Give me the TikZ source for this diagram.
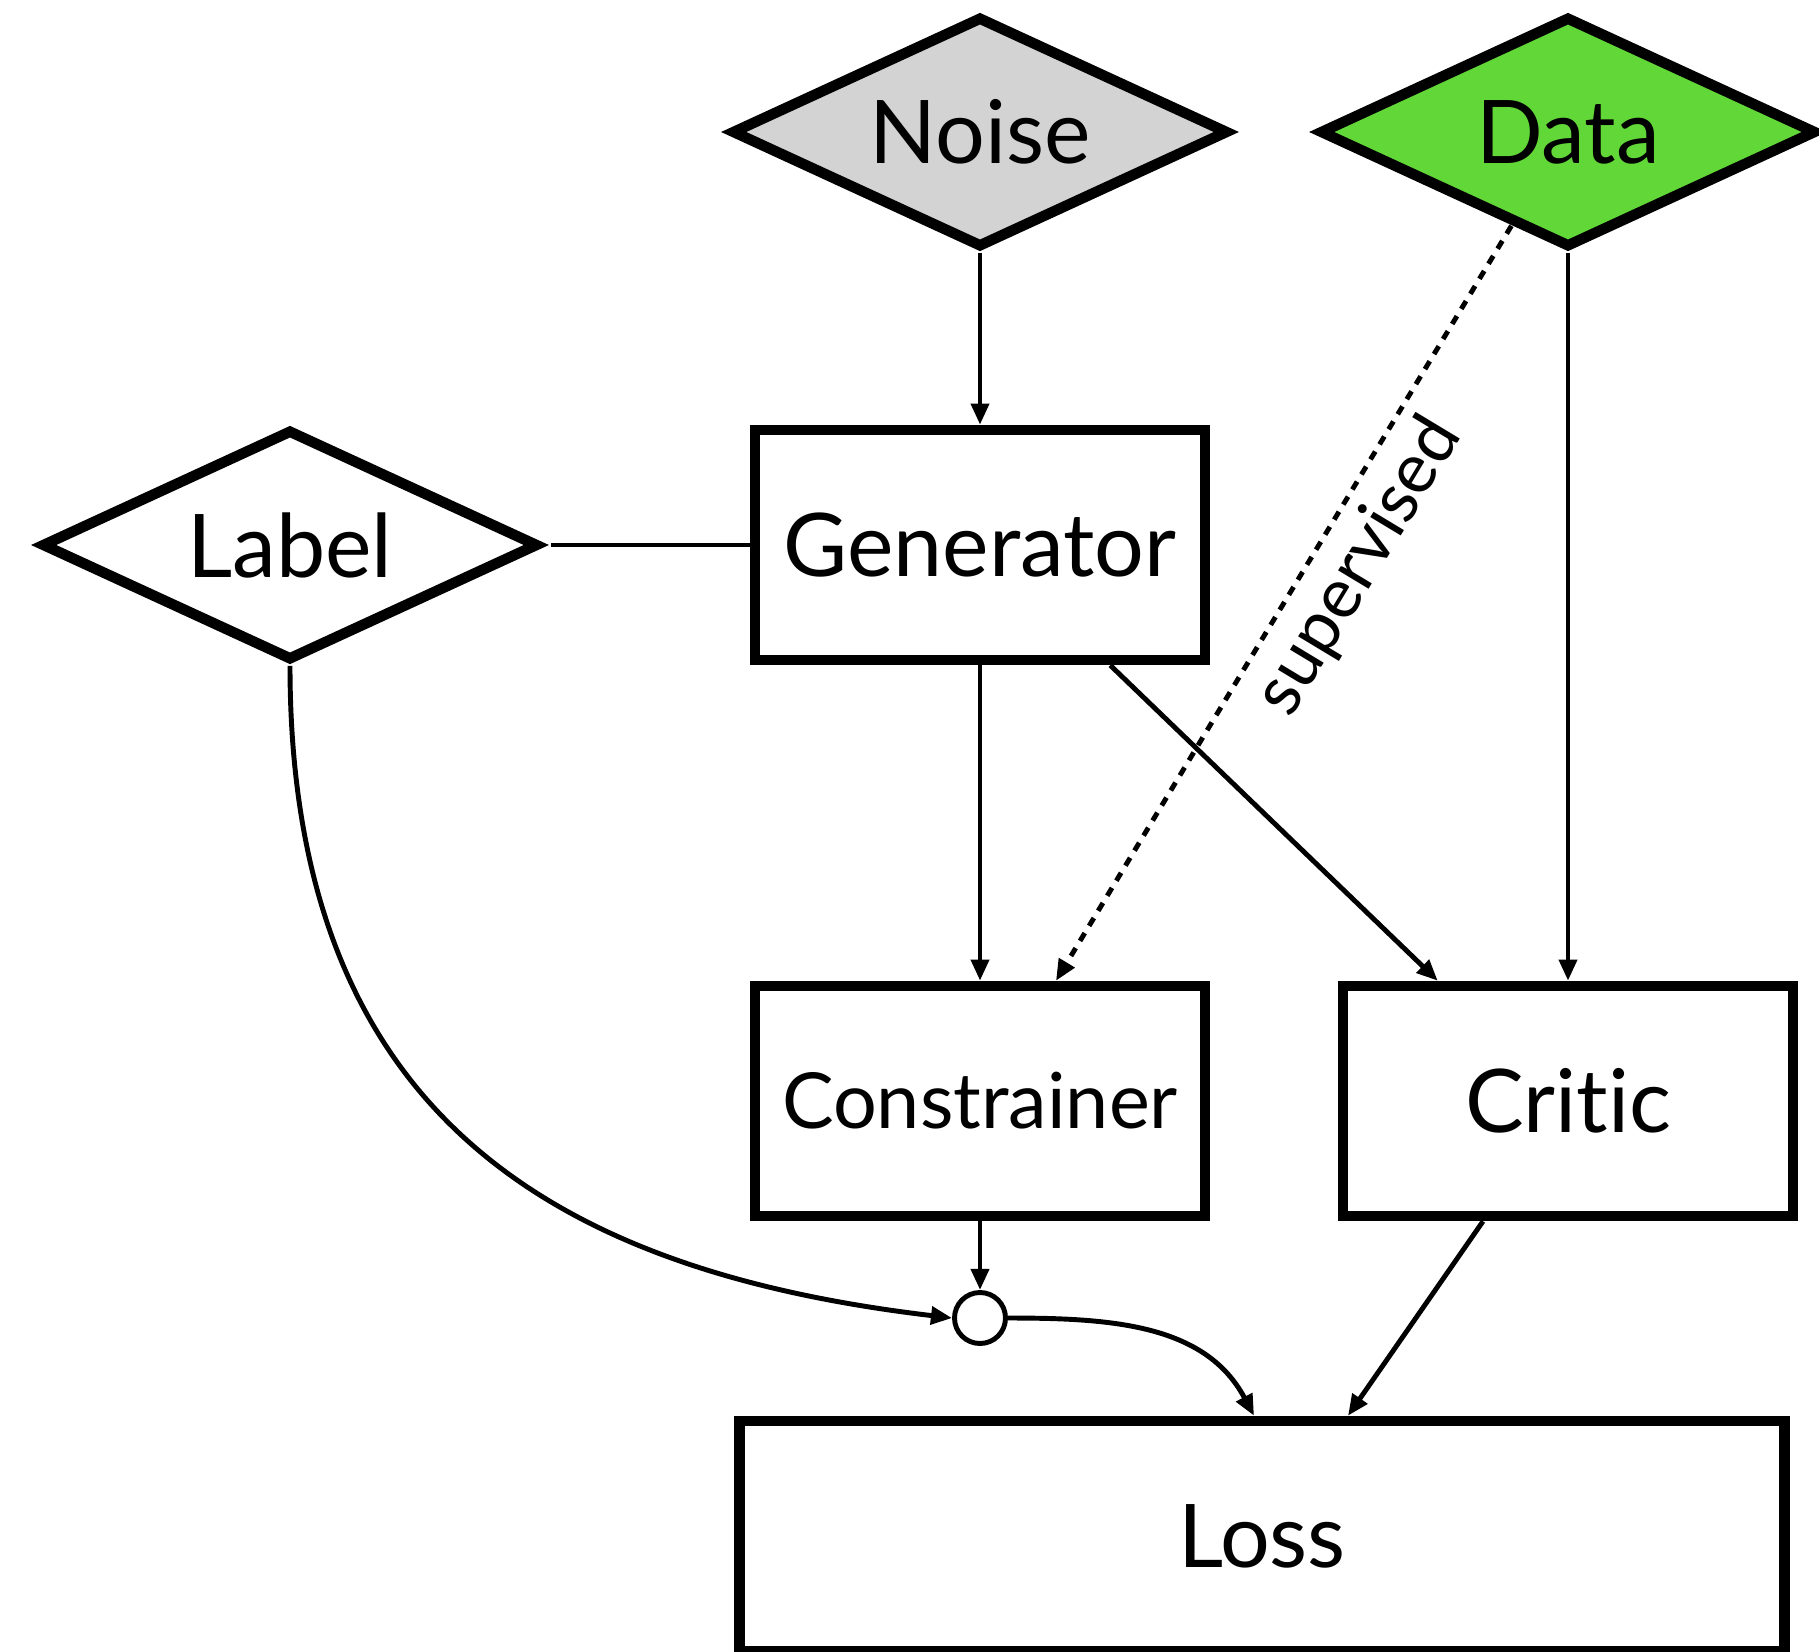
\documentclass[tikz,border=0pt]{standalone}
\usepackage{fontspec}
\setmainfont{Lato}[Ligatures=NoCommon]
\usetikzlibrary{arrows.meta,shapes.geometric}
\definecolor{noisegray}{RGB}{211,211,211}
\definecolor{datagreen}{RGB}{98,216,56}
\tikzset{
	block/.style={draw, line width=3pt, minimum width=4.5cm, minimum height=2.3cm, inner sep=0pt, font=\fontsize{25}{30}\selectfont},
	source/.style={draw, diamond, line width=3pt, aspect=2.2, inner sep=0pt, minimum width=4.97cm, minimum height=2.31cm, font=\fontsize{25}{30}\selectfont},
	joint/.style={draw, circle, line width=1.4pt, minimum size=0.51cm, inner sep=0pt},
	link/.style={line width=1.4pt},
	flow/.style={link, -{Triangle[length=6pt,width=5pt]}},
}

\begin{document}
\begin{tikzpicture}
		%%%%% START %%%%%
		\useasboundingbox (0,0) rectangle (18.19,-16.51);
		
		\node[source, fill=noisegray] (noise) at (9.80,-1.32) {Noise};
		\node[source, fill=datagreen] (data) at (15.68,-1.32) {Data};
		\node[source] (label) at (2.90,-5.45) {Label};
		
		\node[block] (gen) at (9.80,-5.45) {Generator};
		\node[block, font=\fontsize{22}{26}\selectfont] (con) at (9.80,-11.01) {Constrainer};
		\node[block] (critic) at (15.68,-11.01) {Critic};
		\node[joint] (circ) at (9.80,-13.18) {};
		\node[block, minimum width=10.45cm] (loss) at (12.62,-15.36) {Loss};
		
		\draw[flow] (noise) -- (gen);
		\draw[link] ([xshift=2pt]label.east) -- (gen.west);
		\draw[flow] (gen) -- (con);
		\draw[flow] ([xshift=-1cm]gen.south east) -- ([xshift=1cm]critic.north west);
		\draw[flow] (data) -- (critic);
		\draw[flow, dash pattern=on 2.6pt off 2.4pt] (data) -- node[sloped, below, pos=0.42, font=\fontsize{20}{24}\selectfont] {supervised} ([xshift=0.76cm]con.north);
		
		\draw[flow] (con) -- (circ);
		\draw[flow] (label.south) .. controls +(0,-4.5) and +(-3.97,0.47) .. (circ.west);
		\draw[flow] (circ.east) to[out=0, in=118] ([xshift=-0.08cm]loss.north);
		\draw[flow] ([xshift=-0.85cm]critic.south) -- ([xshift=0.86cm]loss.north);
		
		%%%%% END %%%%%
\end{tikzpicture}
\end{document}
